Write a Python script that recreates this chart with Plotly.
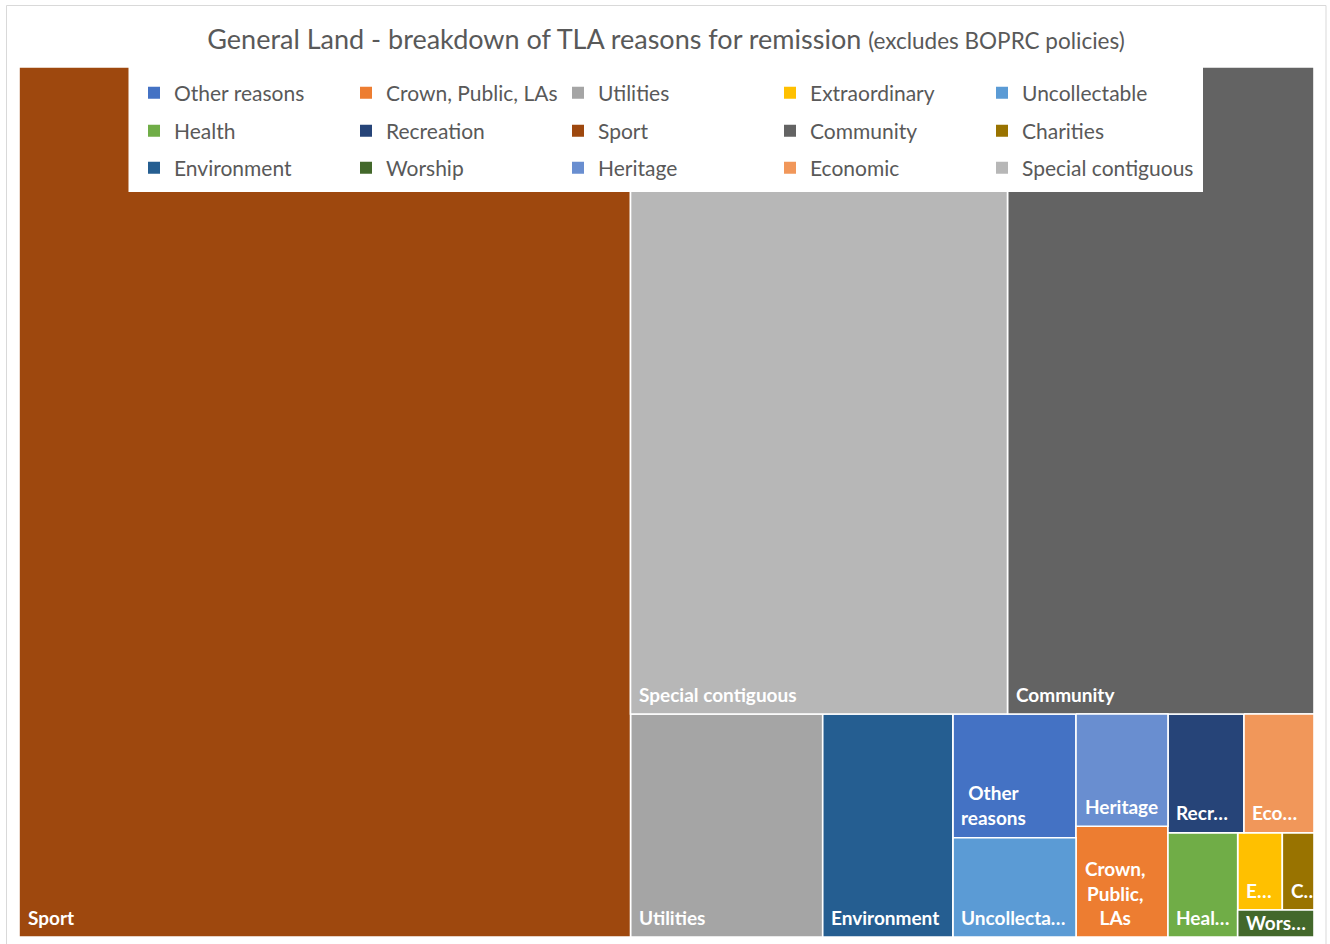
import plotly.graph_objects as go

# ---------------- data (source order, as listed in the legend) ----------------
CATEGORIES = ["Other reasons", "Crown, Public, LAs", "Utilities", "Extraordinary", "Uncollectable",
              "Health", "Recreation", "Sport", "Community", "Charities",
              "Environment", "Worship", "Heritage", "Economic", "Special contiguous"]
VALUES = [15.24, 10.18, 42.86, 3.45, 12.23,
          7.27, 9.02, 532.0, 198.3, 2.45,
          29.01, 2.06, 10.33, 8.31, 243.9]
CELL_LABELS = ["Other<br>reasons", "Crown,<br>Public,<br>LAs", "Utilities", "E…", "Uncollecta…",
               "Heal…", "Recr…", "Sport", "Community", "C…",
               "Environment", "Wors…", "Heritage", "Eco…", "Special contiguous"]
COLORS = ["#4472C4", "#ED7D31", "#A5A5A5", "#FFC000", "#5B9BD5",
          "#70AD47", "#264478", "#9E480E", "#636363", "#997300",
          "#255E91", "#43682B", "#698ED0", "#F1975A", "#B7B7B7"]

TITLE_MAIN = "General Land - breakdown of TLA reasons for remission"
TITLE_SUB = "(excludes BOPRC policies)"

# ---------------- layout constants ----------------
FIG_W, FIG_H = 1330, 944
M_L, M_R, M_T, M_B = 19, 16, 67, 7
PW = FIG_W - M_L - M_R
PH = FIG_H - M_T - M_B
FONT = "Lato"
TXT = "#595959"
RATIO = 1.4  # preferred height/width of cells in the squarified layout


def squarify(values, w, h, ratio):
    """Squarified treemap in plot units (x to the right, y downward)."""
    rects = [None] * len(values)
    remaining = sorted(range(len(values)), key=lambda i: -values[i])
    x, y = 0.0, 0.0
    while remaining:
        total = sum(values[i] for i in remaining)
        across = w < h  # tall container -> row across the top
        short = w if across else h
        long_ = h if across else w

        def worst(row):
            s = sum(values[i] for i in row)
            thick = long_ * s / total
            res = 0.0
            for i in row:
                length = short * values[i] / s
                ww, hh = (length, thick) if across else (thick, length)
                a = hh / ww
                res = max(res, a / ratio, ratio / a)
            return res

        row = [remaining[0]]
        for k in range(1, len(remaining)):
            cand = row + [remaining[k]]
            if worst(cand) > worst(row):
                break
            row = cand
        s = sum(values[i] for i in row)
        thick = long_ * s / total
        pos = 0.0
        for i in row:
            length = short * values[i] / s
            if across:
                rects[i] = (x + pos, y, length, thick)
            else:
                rects[i] = (x, y + pos, thick, length)
            pos += length
        if across:
            y += thick
            h -= thick
        else:
            x += thick
            w -= thick
        remaining = remaining[len(row):]
    return rects


rects = squarify(VALUES, PW, PH, RATIO)

fig = go.Figure()
annotations = []
for name, val, col, lab, (rx, ry, rw, rh) in zip(CATEGORIES, VALUES, COLORS, CELL_LABELS, rects):
    fig.add_trace(go.Scatter(
        x=[rx, rx + rw, rx + rw, rx, rx], y=[ry, ry, ry + rh, ry + rh, ry],
        mode="lines", fill="toself", fillcolor=col,
        line=dict(color="white", width=1.6),
        name=name, showlegend=False, hoveron="fills",
        text=f"{name}: {val}", hoverinfo="text"))
    nlines = lab.count("<br>") + 1
    box_h = 25 * nlines
    yshift = min(6.5, max(0, (rh - box_h) / 2))
    annotations.append(dict(
        x=rx, y=ry + rh, xref="x", yref="y", xanchor="left", yanchor="bottom",
        xshift=6.5, yshift=yshift, text=lab, showarrow=False, align="center",
        font=dict(family=FONT, size=19, color="white", weight="bold")))

# legend entries (three rows of five, as in the source)
LEG_IDS = ["legend", "legend2", "legend3"]
for k, (name, col) in enumerate(zip(CATEGORIES, COLORS)):
    fig.add_trace(go.Scatter(
        x=[None], y=[None], mode="markers", name=name,
        marker=dict(symbol="square", size=12, color=col),
        legend=LEG_IDS[k // 5], showlegend=True))


def px_x(p):
    return (p - M_L) / PW


def px_y(p):
    return (FIG_H - M_B - p) / PH


ROW_Y_PX = [93, 131, 168]
legend_common = dict(orientation="h", x=px_x(134), xanchor="left", yanchor="middle",
                     bgcolor="rgba(0,0,0,0)", borderwidth=0,
                     entrywidth=167, entrywidthmode="pixels",
                     font=dict(family=FONT, size=21, color=TXT),
                     itemclick=False, itemdoubleclick=False)
legends = {}
for lid, ypx in zip(LEG_IDS, ROW_Y_PX):
    legends[lid] = dict(legend_common, y=px_y(ypx))

shapes = [
    # white legend panel over the treemap
    dict(type="rect", xref="paper", yref="paper", layer="above",
         x0=px_x(128.5), x1=px_x(1203), y0=px_y(192), y1=px_y(67),
         fillcolor="white", line=dict(width=0)),
    # chart border
    dict(type="rect", xref="paper", yref="paper", layer="above",
         x0=px_x(6.5), x1=px_x(1326), y0=px_y(960), y1=px_y(5.5),
         fillcolor="rgba(0,0,0,0)", line=dict(color="#D9D9D9", width=1)),
]

fig.update_layout(
    width=FIG_W, height=FIG_H,
    margin=dict(l=M_L, r=M_R, t=M_T, b=M_B),
    paper_bgcolor="white", plot_bgcolor="white",
    title=dict(text=f"{TITLE_MAIN} <span style='font-size:22.5px'>{TITLE_SUB}</span>",
               x=(666 / FIG_W), xref="container", xanchor="center",
               y=1 - 40 / FIG_H, yref="container", yanchor="middle",
               font=dict(family=FONT, size=27, color=TXT)),
    xaxis=dict(range=[0, PW], visible=False, fixedrange=True),
    yaxis=dict(range=[PH, 0], visible=False, fixedrange=True),
    annotations=annotations,
    shapes=shapes,
    hovermode="closest",
    **legends,
)

fig.write_html("out.html")
